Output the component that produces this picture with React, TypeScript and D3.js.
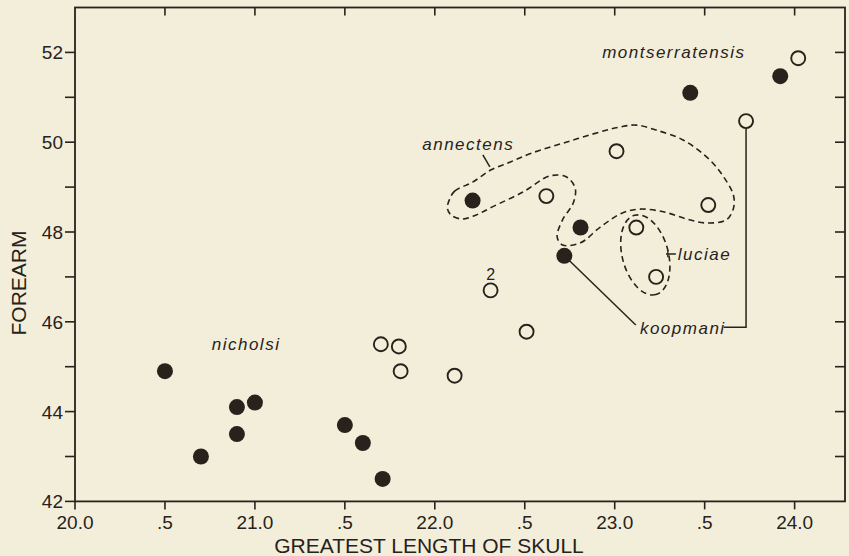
import React from "react";
import * as d3 from "d3";

// ---- data (skull length, forearm) ----
const filledPoints: [number, number][] = [
  [20.5, 44.9], [20.7, 43.0], [20.9, 44.1], [20.9, 43.5], [21.0, 44.2],
  [21.5, 43.7], [21.6, 43.3], [21.71, 42.5],
  [22.21, 48.7], [22.81, 48.1], [22.72, 47.47],
  [23.42, 51.1], [23.92, 51.47],
];
const openPoints: [number, number][] = [
  [21.7, 45.5], [21.8, 45.45], [21.81, 44.9], [22.11, 44.8],
  [22.31, 46.7], [22.51, 45.78], [22.62, 48.8], [23.01, 49.8],
  [23.12, 48.1], [23.23, 47.0], [23.52, 48.6], [23.73, 50.47], [24.02, 51.87],
];
const xTickValues = [20.0, 20.5, 21.0, 21.5, 22.0, 22.5, 23.0, 23.5, 24.0];
const xTickLabels = ["20.0", ".5", "21.0", ".5", "22.0", ".5", "23.0", ".5", "24.0"];
const yTickValues = [42, 43, 44, 45, 46, 47, 48, 49, 50, 51, 52];
const yTickLabels = ["42", "", "44", "", "46", "", "48", "", "50", "", "52"];

// annotation outlines in data units
const annectensOutline: [number, number][] = [
  [22.08, 48.71], [22.11, 48.91], [22.21, 49.11], [22.31, 49.38], [22.42, 49.56],
  [22.54, 49.76], [22.73, 50.0], [22.92, 50.23], [23.03, 50.34], [23.12, 50.38],
  [23.23, 50.27], [23.38, 50.05], [23.53, 49.6], [23.61, 49.2], [23.66, 48.82],
  [23.66, 48.53], [23.62, 48.27], [23.51, 48.2], [23.4, 48.29], [23.27, 48.45],
  [23.14, 48.51], [23.04, 48.42], [22.92, 48.11], [22.81, 47.76], [22.71, 47.71],
  [22.68, 47.89], [22.71, 48.27], [22.77, 48.65], [22.78, 48.98], [22.73, 49.23],
  [22.64, 49.25], [22.49, 48.89], [22.32, 48.56], [22.23, 48.38], [22.15, 48.29],
  [22.09, 48.38], [22.07, 48.53],
];
const luciaeCenter: [number, number] = [23.17, 47.49];

const labels = [
  { text: "montserratensis", x: 22.93, y: 51.88 },
  { text: "annectens", x: 21.93, y: 49.83 },
  { text: "luciae", x: 23.35, y: 47.38 },
  { text: "koopmani", x: 23.14, y: 45.73 },
  { text: "nicholsi", x: 20.76, y: 45.37 },
];

const W = 849;
const H = 556;
const bg = "#f3eeda";
const ink = "#27221c";

export default function App() {
  const x = d3.scaleLinear().domain([20, 24.28]).range([75, 845]);
  const y = d3.scaleLinear().domain([42, 53]).range([501.4, 7.5]);
  const left = x.range()[0], right = x.range()[1];
  const top = y.range()[1], bottom = y.range()[0];

  const outline = d3
    .line<[number, number]>()
    .x((d) => x(d[0]))
    .y((d) => y(d[1]))
    .curve(d3.curveCatmullRomClosed.alpha(0.5))(annectensOutline) as string;

  const font = "'Liberation Sans', Arial, sans-serif";
  const [lcx, lcy] = [x(luciaeCenter[0]), y(luciaeCenter[1])];

  return (
    <svg
      width={W}
      height={H}
      style={{ position: "absolute", left: 0, top: 0, background: bg }}
      fontFamily={font}
    >
      <rect x={0} y={0} width={W} height={H} fill={bg} />
      {/* frame */}
      <rect x={left} y={top} width={right - left} height={bottom - top} fill="none" stroke={ink} strokeWidth={1.8} />
      {/* x ticks bottom (out) and top (in) */}
      {xTickValues.map((v, i) => (
        <g key={"xt" + i}>
          <line x1={x(v)} x2={x(v)} y1={bottom} y2={bottom + 8} stroke={ink} strokeWidth={1.6} />
          {i > 0 && <line x1={x(v)} x2={x(v)} y1={top} y2={top + 8} stroke={ink} strokeWidth={1.6} />}
          <text x={x(v)} y={529} textAnchor="middle" fontSize={19} fill={ink}>
            {xTickLabels[i]}
          </text>
        </g>
      ))}
      {/* y ticks left (out) and right (in) */}
      {yTickValues.map((v, i) => (
        <g key={"yt" + i}>
          <line x1={left - 10} x2={left} y1={y(v)} y2={y(v)} stroke={ink} strokeWidth={1.6} />
          {i > 0 && <line x1={right - 10} x2={right} y1={y(v)} y2={y(v)} stroke={ink} strokeWidth={1.6} />}
          {yTickLabels[i] && (
            <text x={63} y={y(v) + 7} textAnchor="end" fontSize={19} fill={ink}>
              {yTickLabels[i]}
            </text>
          )}
        </g>
      ))}
      {/* axis titles */}
      <text x={429} y={553} textAnchor="middle" fontSize={21} fill={ink}>
        GREATEST LENGTH OF SKULL
      </text>
      <text transform={`translate(26,283) rotate(-90)`} textAnchor="middle" fontSize={21} fill={ink}>
        FOREARM
      </text>

      {/* annotation contours */}
      <path d={outline} fill="none" stroke={ink} strokeWidth={1.6} strokeDasharray="6 4" />
      <ellipse
        cx={lcx}
        cy={lcy}
        rx={41}
        ry={23}
        transform={`rotate(75 ${lcx} ${lcy})`}
        fill="none"
        stroke={ink}
        strokeWidth={1.6}
        strokeDasharray="6 4"
      />
      {/* leader lines */}
      <line x1={x(22.267)} y1={y(49.72)} x2={x(22.306)} y2={y(49.45)} stroke={ink} strokeWidth={1.5} />
      <line x1={x(23.285)} y1={y(47.51)} x2={x(23.34)} y2={y(47.51)} stroke={ink} strokeWidth={1.5} />
      <line x1={x(23.295)} y1={y(47.6)} x2={x(23.295)} y2={y(47.44)} stroke={ink} strokeWidth={1.3} />
      <line x1={x(22.72)} y1={y(47.47)} x2={x(23.117)} y2={y(45.93)} stroke={ink} strokeWidth={1.5} />
      <polyline
        points={`${x(23.73)},${y(50.47)} ${x(23.73)},${y(45.88)} ${x(23.606)},${y(45.88)}`}
        fill="none"
        stroke={ink}
        strokeWidth={1.5}
      />

      {/* points */}
      {openPoints.map((d, i) => (
        <circle key={"o" + i} cx={x(d[0])} cy={y(d[1])} r={7} fill={bg} stroke={ink} strokeWidth={1.9} />
      ))}
      {filledPoints.map((d, i) => (
        <circle key={"f" + i} cx={x(d[0])} cy={y(d[1])} r={8} fill={ink} />
      ))}
      <text x={x(22.31)} y={y(46.7) - 10} textAnchor="middle" fontSize={16} fill={ink}>
        2
      </text>

      {/* species labels */}
      {labels.map((l, i) => (
        <text key={"l" + i} x={x(l.x)} y={y(l.y)} fontSize={17} fontStyle="italic" letterSpacing={1.5} fill={ink}>
          {l.text}
        </text>
      ))}
    </svg>
  );
}
